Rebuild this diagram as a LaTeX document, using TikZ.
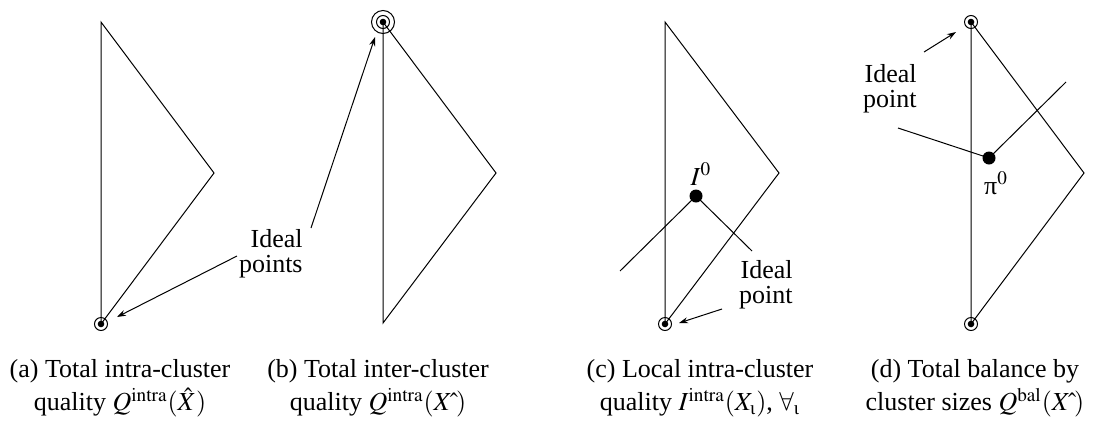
\documentclass[tikz,border=0pt]{standalone}
\usepackage{amsmath}
\usepackage{mathptmx}
\usepackage{fontspec}
\setmainfont{Liberation Serif}
\usetikzlibrary{arrows.meta}
\tikzset{
  side/.style={line width=.5pt},
  pointer/.style={-{Stealth[length=4.5pt,width=3pt]},line width=.5pt},
  ring/.style={circle,draw,line width=.5pt,inner sep=0pt,minimum size=6.5pt},
  outring/.style={circle,draw,line width=.5pt,inner sep=0pt,minimum size=11.5pt},
  core/.style={circle,fill,inner sep=0pt,minimum size=3.3pt},
  refpt/.style={circle,fill,inner sep=0pt,minimum size=6.5pt},
  note/.style={align=right,inner sep=0pt,font=\fontsize{13}{12.5}\selectfont},
  capt/.style={align=center,inner sep=0pt,font=\fontsize{13}{16.5}\selectfont},
}

\begin{document}
\begin{tikzpicture}[x=.5pt,y=-.5pt]
  \useasboundingbox (0,0) rectangle (1107,424);
  % (a) total intra-cluster quality
  \coordinate (aTop) at (101,22);
  \coordinate (aApex) at (214,173);
  \coordinate (aBot) at (101,324);
  \draw[side] (aTop) -- (aBot) -- (aApex) -- cycle;
  \node[ring] (aIdeal) at (aBot) {};
  \node[core] at (aBot) {};
  % (b) total inter-cluster quality
  \coordinate (bTop) at (383,22);
  \coordinate (bApex) at (496,173);
  \coordinate (bBot) at (383,323);
  \draw[side] (bTop) -- (bBot) -- (bApex) -- cycle;
  \node[outring] (bIdeal) at (bTop) {};
  \node[ring] at (bTop) {};
  \node[core] at (bTop) {};
  % shared label of (a) and (b)
  \node[note,anchor=north east] (pts) at (303,229) {Ideal\\points};
  \coordinate (aFrom) at (237,256);
  \coordinate (aTip) at (117,317);
  \coordinate (bFrom) at (311,228);
  \coordinate (bTip) at (375,37);
  \draw[pointer] (aFrom) -- (aTip);
  \draw[pointer] (bFrom) -- (bTip);
  % (c) local intra-cluster quality
  \coordinate (cTop) at (665,22);
  \coordinate (cApex) at (779,173);
  \coordinate (cBot) at (665,324);
  \draw[side] (cTop) -- (cBot) -- (cApex) -- cycle;
  \node[ring] (cIdeal) at (cBot) {};
  \node[core] at (cBot) {};
  \node[refpt] (I0) at (696,196) {};
  \node (I0lbl) at (701,174) {\fontsize{13}{13}\selectfont$I^0$};
  \coordinate (cLeft) at (620,271);
  \coordinate (cRight) at (752,251);
  \draw[side] (cLeft) -- (I0.center) -- (cRight);
  \node[note,anchor=north east] (cNote) at (793,260) {Ideal\\point};
  \coordinate (cFrom) at (722,309);
  \coordinate (cTip) at (679,323);
  \draw[pointer] (cFrom) -- (cTip);
  % (d) total balance by cluster sizes
  \coordinate (dTop) at (971,22);
  \coordinate (dApex) at (1084,173);
  \coordinate (dBot) at (971,324);
  \draw[side] (dTop) -- (dBot) -- (dApex) -- cycle;
  \node[ring] (dIdeal) at (dTop) {};
  \node[core] at (dTop) {};
  \node[ring] (dLow) at (dBot) {};
  \node[core] at (dBot) {};
  \node[refpt] (pi0) at (989,158) {};
  \node (pi0lbl) at (996,183) {\fontsize{13}{13}\selectfont π$^0$};
  \coordinate (dLeft) at (898,128);
  \coordinate (dRight) at (1066,82);
  \draw[side] (dLeft) -- (pi0.center) -- (dRight);
  \node[note,anchor=north east] (dNote) at (917,64) {Ideal\\point};
  \coordinate (dFrom) at (924,52);
  \coordinate (dTip) at (956,32);
  \draw[pointer] (dFrom) -- (dTip);
  % captions
  \node[capt,anchor=north] (capA) at (120,359)
    {(a) Total intra-cluster\\quality $Q^{\mathrm{intra}}(\hat{X})$};
  \node[capt,anchor=north] (capB) at (378,359)
    {(b) Total inter-cluster\\quality $Q^{\mathrm{intra}}(X\hat{\kern2pt})$};
  \node[capt,anchor=north] (capC) at (700,359)
    {(c) Local intra-cluster\\quality $I^{\mathrm{intra}}(X_{\text{ι}})$, $\forall_{\text{ι}}$};
  \node[capt,anchor=north] (capD) at (975,359)
    {(d) Total balance by\\cluster sizes $Q^{\mathrm{bal}}(X\hat{\kern2pt})$};
\end{tikzpicture}
\end{document}
